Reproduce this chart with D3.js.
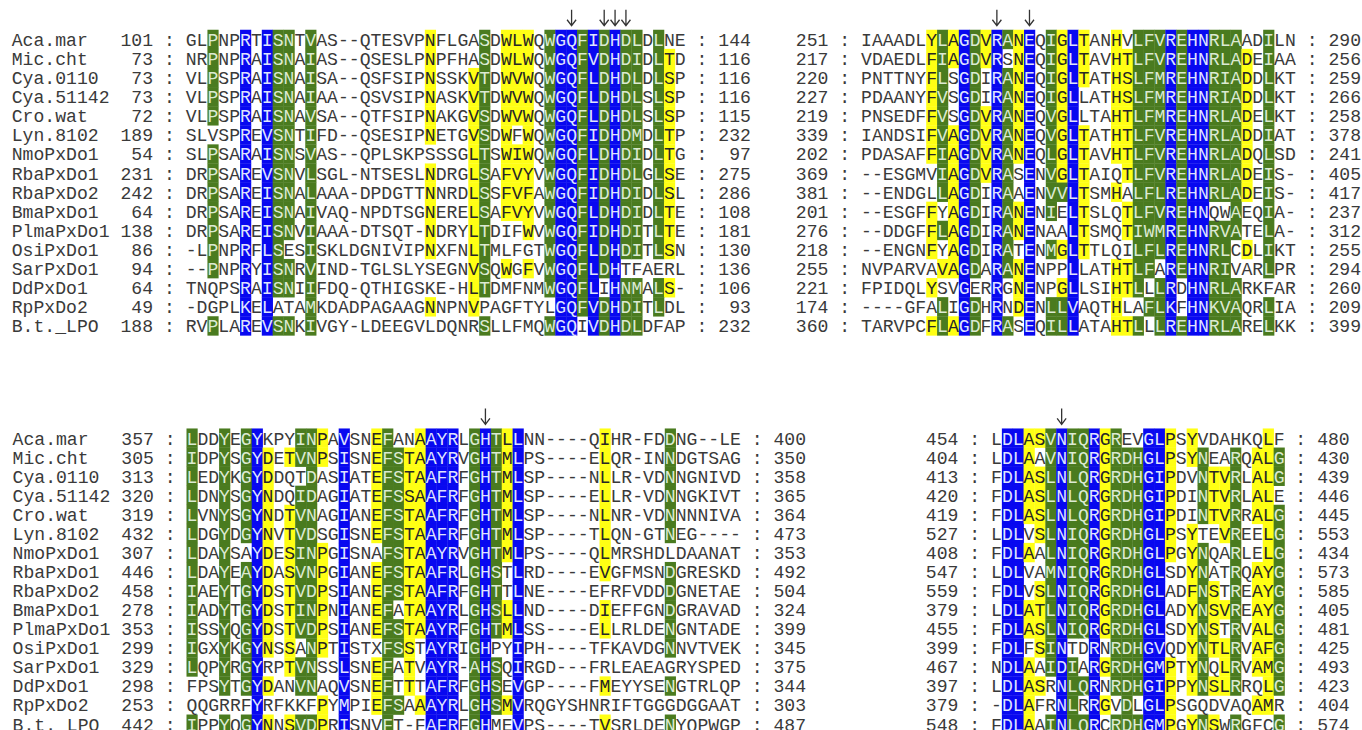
<!DOCTYPE html>
<meta charset="utf-8" />
<script src="https://d3js.org/d3.v7.min.js"></script>
<style>
  body { margin: 0; background: #fff; }
  svg text { font-family: "Liberation Mono", "DejaVu Sans Mono", monospace; font-size: 18.1px; }
</style>
<body>
  <div id="my_dataviz"></div>
</body>
<script>
  // sequence names (same order in every block)
  var names = ["Aca.mar", "Mic.cht", "Cya.0110", "Cya.51142", "Cro.wat", "Lyn.8102", "NmoPxDo1", "RbaPxDo1",
    "RbaPxDo2", "BmaPxDo1", "PlmaPxDo1", "OsiPxDo1", "SarPxDo1", "DdPxDo1", "RpPxDo2", "B.t._LPO"];

  // ---- block 1 (top left)
  var tlStart = [101, 73, 73, 73, 72, 189, 54, 231, 242, 64, 138, 86, 94, 64, 49, 188];
  var tlEnd = [144, 116, 116, 116, 115, 232, 97, 275, 286, 108, 181, 130, 136, 106, 93, 232];
  var tlSeq = [
    "GLPNPRTISNTVAS--QTESVPNFLGASDWLWQWGQFIDHDLDLNE",
    "NRPNPRAISNAIAS--QSESLPNPFHASDWLWQWGQFVDHDIDLTD",
    "VLPSPRAISNAISA--QSFSIPNSSKVTDWVWQWGQFLDHDLDLSP",
    "VLPSPRAISNAIAA--QSVSIPNASKVTDWVWQWGQFLDHDLSLSP",
    "VLPSPRAISNAVSA--QTFSIPNAKGVSDWVWQWGQFLDHDLSLSP",
    "SLVSPREVSNTIFD--QSESIPNETGVSDWFWQWGQFIDHDMDLTP",
    "SLPSARAISNSVAS--QPLSKPSSSGLTSWIWQWGQFLDHDIDLTG",
    "DRPSAREVSNVLSGL-NTSESLNDRGLSAFVYVWGQFIDHDLGLSE",
    "DRPSAREISNALAAA-DPDGTTNNRDLSSFVFAWGQFIDHDIDLSL",
    "DRPSAREISNAIVAQ-NPDTSGNERELSAFVYVWGQFLDHDIDLTE",
    "DRPSAREISNVIAAA-DTSQT-NDRYLTDIFWVWGQFIDHDITLTE",
    "-LPNPRFLSESISKLDGNIVIPNXFNLTMLFGTWGQFLDHDITLSN",
    "--PNPRYISNRVIND-TGLSLYSEGNVSQWGFVWGQFLDHTFAERL",
    "TNQPSRAISNIIFDQ-QTHIGSKE-HLTDMFNMWGQFLIHNMALS-",
    "-DGPLKELATAMKDADPAGAAGNNPNVPAGFTYLGQFVDHDITLDL",
    "RVPLAREVSNKIVGY-LDEEGVLDQNRSLLFMQWGQIVDHDLDFAP"];
  // conservation class per residue: b = conserved, g = high, y = medium, . = none
  var tlShade = [
    "..g..b.bgg" + ".g........" + "..y....g.y" + "yy.gbbgbgb" + "gg.g..",
    "..g..b.bgg" + ".g........" + "..y....g.y" + "yy.gbbgbgb" + "gg.gy.",
    "..g..b.bgg" + ".g........" + "..y...yg.y" + "yy.gbbgbgb" + "gg.gy.",
    "..g..b.bgg" + ".g........" + "..y...yg.y" + "yy.gbbgbgb" + "gg.gy.",
    "..g..b.bgg" + ".g........" + "..y...yg.y" + "yy.gbbgbgb" + "gg.gy.",
    ".....b.bgg" + ".g........" + "..y...yg.y" + ".y.gbbgbgb" + "gg.gy.",
    "..g..b.bgg" + ".g........" + "......yg.y" + "yy.gbbgbgb" + "gg.gy.",
    "..g..b.bgg" + ".g........" + "..y...yg.y" + "yy.gbbgbgb" + "gg.gy.",
    "..g..b.bgg" + ".g........" + "..y...yg.y" + "yy.gbbgbgb" + "gg.gy.",
    "..g..b.bgg" + ".g........" + "..y...yg.y" + "yy.gbbgbgb" + "gg.gy.",
    "..g..b.bgg" + ".g........" + "..y...yg.." + ".y.gbbgbgb" + "gg.gy.",
    "..g..b.bg." + ".g........" + "..y...yg.." + "...gbbgbgb" + "gg.gy.",
    "..g..b.bgg" + ".g........" + "......yg.y" + ".y.gbbgbgb" + "......",
    ".....b.bgg" + ".g........" + "......yg.." + "...gbbgb.b" + "gg.gy.",
    ".....b.b.." + ".g........" + "..y...y..." + "....bbgbgb" + "gg.g..",
    "..g..b.bgg" + ".g........" + ".......g.." + "...gbb.bgb" + "gg...."];
  var tlArrows = [36, 39, 40, 41];

  // ---- block 2 (top right)
  var trStart = [251, 217, 220, 227, 219, 339, 202, 369, 381, 201, 276, 218, 255, 221, 174, 360];
  var trEnd = [290, 256, 259, 266, 258, 378, 241, 405, 417, 237, 312, 255, 294, 260, 209, 399];
  var trSeq = [
    "IAAADLYLAGDVRANEQIGLTANHVLFVREHNRLAADILN",
    "VDAEDLFIAGDVRSNEQIGLTAVHTLFVREHNRLADEIAA",
    "PNTTNYFLSGDIRANEQIGLTATHSLFMREHNRIADDLKT",
    "PDAANYFVSGDIRANEQIGLLATHSLFMREHNRIADDLKT",
    "PNSEDFFVSGDVRANEQVGLLTAHTLFMREHNRLADELKT",
    "IANDSIFVAGDVRANEQVGLTATHTLFVREHNRLADDIAT",
    "PDASAFFIAGDVRANEQLGLTAVHTLFVREHNRLADQLSD",
    "--ESGMVIAGDVRASENVGLTAIQTLFVREHNRLADEIS-",
    "--ENDGLLAGDIRAAENVVLTSMHALFLREHNRLADEIS-",
    "--ESGFFYAGDIRANENIELTSLQTLFVREHNQWAEQIA-",
    "--DDGFFLAGDIRANENAALTSMQTIWMREHNRVATELA-",
    "--ENGNFYAGDIRATENMGLTTLQILFLREHNRLCDLIKT",
    "NVPARVAVAGDARANENPPLLATHTLFAREHNRIVARLPR",
    "FPIDQLYSVGERRGNENPGLLSIHTLLLRDHNRLARKFAR",
    "----GFALIGDHRNDENLLVAQTHLAFLKFHNKVAQRLIA",
    "TARVPCFLAGDFRASEQILLATAHTLLLREHNRLARELKK"];
  var trShade = [
    "......ygyb" + "gybgyb.gyb" + "y..y.gggbg" + "bbggg..g..",
    "......ygyb" + "gyb.yb.gyb" + "y..yygggbg" + "bbgggy.g..",
    "......yg.b" + "g.bgyb.gyb" + "y..yygggbg" + "bbgggy.g..",
    "......yg.b" + "g.bgyb.gyb" + "...yygggbg" + "bbgggy.g..",
    "......yg.b" + "gybgyb.gyb" + "...yygggbg" + "bbgggy.g..",
    "......ygyb" + "gybgyb.gyb" + "y..yygggbg" + "bbgggy.g..",
    "......ygyb" + "gybgyb.gyb" + "y..yygggbg" + "bbgggy.g..",
    ".......gyb" + "gybg.b.gyb" + "y...ygggbg" + "bbgggy.g..",
    ".......gyb" + "g.bg.b.ggb" + "y..y.gggbg" + "bbgggy.g..",
    "......y.yb" + "g.bgyb.g.b" + "y...ygggbg" + "bb..g..g..",
    "......ygyb" + "g.bgyb...b" + "y...ygggbg" + "bbggg..g..",
    "......y.yb" + "g.bg.b.gyb" + "y....gggbg" + "bbgg.y.g..",
    ".......yyb" + "g.bgyb...b" + "...yygg.bg" + "bbgg...g..",
    "......y..b" + "..b.yb..yb" + "...yyg.gb." + "bbggg.....",
    ".......g.b" + "g.b.yb.ggb" + "...y..ggb." + "bbggg..g..",
    "......ygyb" + "g.bg.b.ggb" + "...yyg.gbg" + "bbggg..g.."];
  var trArrows = [13, 16];

  // ---- block 3 (bottom left)
  var blStart = [357, 305, 313, 320, 319, 432, 307, 446, 458, 278, 353, 299, 329, 298, 253, 442];
  var blEnd = [400, 350, 358, 365, 364, 473, 353, 492, 504, 324, 399, 345, 375, 344, 303, 487];
  var blSeq = [
    "LDDYEGYKPYINPAVSNEFANAAYRLGHTLLNN----QIHR-FDDNG--LE",
    "IDPYSGYDETVNPSISNEFSTAAYRVGHTMLPS----ELQR-INNDGTSAG",
    "LEDYKGYDDQTDASIATEFSTAAFRFGHTMLSP----NLLR-VDNNGNIVD",
    "LDNYSGYNDQIDAGIATEFSSAAFRFGHTMLSP----ELLR-VDNNGKIVT",
    "LVNYSGYNDTVNAGIANEFSTAAFRFGHTMLSP----NLNR-VDNNNNIVA",
    "LDGYDGYNVTVDSGISNEFSTAAFRFGHTMLSP----TLQN-GTNEG----",
    "LDAYSAYDESINPGISNAFSTAAYRVGHTMLPS----QLMRSHDLDAANAT",
    "LDAYEAYDASVNPGIANEFSTAAFRLGHSTLRD----EVGFMSNDGRESKD",
    "IAEYTGYDSTVDPSIANEFSTAAFRFGHTTLNE----EFRFVDDDGNETAE",
    "IADYTGYDSTINPNIANEFATAAYRLGHSLLND----DIEFFGNDGRAVAD",
    "ISSYQGYDSTVDPSIANEFSTAAYRFGHTMLSS----ELLRLDENGNTADE",
    "IGXYKGYNSSANPTISTXFSSTAYRIGHPYIPH----TFKAVDGNNVTVEK",
    "LQPYRGYRPTVNSSLSNEFATVAYR-AHSQIRGD---FRLEAEAGRYSPED",
    "FPSYTGYDANVNAQVSNEFTTTAFRFGHSEVGP----FMEYYSENGTRLQP",
    "QQGRRFYRFKKFPYMPIEFSAAAYRLGHSMVRQGYSHNRIFTGGGDGGAAT",
    "IPPYQGYNNSVDPRISNVFT-FAFRFGHMEVPS----TVSRLDENYQPWGP"];
  var blShade = [
    "g..g.gb..." + "ggy.b..yg." + ".ybbb.gbgy" + "b.......y." + "....g....." + ".",
    "g..g.gby.y" + "ggy.b..ygg" + "yybbb.gbgy" + "b.......y." + "....g....." + ".",
    "g..g.gby.." + ".g..b..ygg" + "yybbb.gbgy" + "b.......y." + "....g....." + ".",
    "g..g.gby.." + "gg..b..ygg" + "yybbb.gbgy" + "b.......y." + "....g....." + ".",
    "g..g.gby.y" + "gg..b..ygg" + "yybbb.gbgy" + "b.......y." + "....g....." + ".",
    "g..g.gby.y" + "gg..b..ygg" + "yybbb.gbgy" + "b.......y." + "....g....." + ".",
    "g..g..by.y" + "ggy.b...gg" + "yybbb.gbgy" + "b.......y." + ".........." + ".",
    "g..g.gby.y" + "ggy.b..ygg" + "yybbb.gbg." + "b.......y." + "....g....." + ".",
    "g..g.gby.y" + "ggy.b..ygg" + "yybbb.gbg." + "b........." + "....g....." + ".",
    "g..g.gby.y" + "ggy.b..yg." + "yybbb.gbgy" + "b.......y." + "....g....." + ".",
    "g..g.gby.y" + "ggy.b..ygg" + "yybbb.gbgy" + "b.......y." + "....g....." + ".",
    "g..g.gby.y" + ".gy.b...gg" + "y.bbb.gb.." + "b........." + "....g....." + ".",
    "g..g.gb..y" + "gg..b..yg." + "y.bbb.gbg." + "b........." + ".........." + ".",
    "...g.gby.." + "gg..b..yg." + "y.bbb.gbg." + "b.......y." + "....g....." + ".",
    "......b..." + "..y.b..ygg" + ".ybbb.gbgy" + "b........." + ".........." + ".",
    "g..g.gby.y" + "ggy.b...g." + "..bbb.gb.." + "b.......y." + "....g....." + "."];
  var blArrows = [28];

  // ---- block 4 (bottom right)
  var brStart = [454, 404, 413, 420, 419, 527, 408, 547, 559, 379, 455, 399, 467, 397, 379, 548];
  var brEnd = [480, 430, 439, 446, 445, 553, 434, 573, 585, 405, 481, 425, 493, 423, 404, 574];
  var brSeq = [
    "LDLASVNIQRGREVGLPSYVDAHKQLF",
    "LDLAAVNIQRGRDHGLPSYNEARQALG",
    "FDLASLNLQRGRDHGIPDVNTVRLALG",
    "FDLASLNLQRGRDHGIPDINTVRLALE",
    "FDLASLNLQRGRDHGIPDINTVRRALG",
    "LDLVSLNIQRGRDHGLPSYTEVREELG",
    "FDLAALNIQRGRDHGLPGYNQARLELG",
    "LDLVAMNIQRGRDHGLSDYNATRQAYG",
    "FDLVSLNIQRGRDHGLADFNSTREAYG",
    "LDLATLNIQRGRDHGLADYNSVREAYG",
    "FDLASLNIQRGRDHGLSDYNSTRVALG",
    "FDLFSINTDRNRDHGVQDYNTLRVAFG",
    "NDLAAIDIARGRDHGMPTYNQLRVAMG",
    "LDLASRNLQRNRDHGIPPYNSLRRQLG",
    "-DLAFRNLRRGVDLGLPSGQDVAQAMR",
    "FDLAAINLQRCRDHGMPGYNSWRGFCG"];
  var brShade = [
    ".bbyygbggb" + "yg..bby.y." + ".....y.",
    ".bby.gbggb" + "ygggbby.yg" + "..g.yyg",
    ".bbyygbggb" + "ygggbby..g" + "yyg.yyg",
    ".bbyygbggb" + "ygggbby..g" + "yyg.yy.",
    ".bbyygbggb" + "ygggbby..g" + "yyg.yyg",
    ".bb.ygbggb" + "ygggbby.y." + ".yg..yg",
    ".bby.gbggb" + "ygggbby.yg" + "..g..yg",
    ".bb..gbggb" + "ygggbb..yg" + "..g.yyg",
    ".bb.ygbggb" + "ygggbb..yg" + "y.g.yyg",
    ".bbyygbggb" + "ygggbb..yg" + "yyg.yyg",
    ".bbyygbggb" + "ygggbb..yg" + "y.g.yyg",
    ".bb.ygb..b" + ".gggbb..yg" + "yyg.yyg",
    ".bby.gbg.b" + "ygggbby.yg" + ".yg.yyg",
    ".bbyy.bggb" + ".gggbby.yg" + "yyg..yg",
    ".bby..bg.b" + "y.g.bby..." + "....yy.",
    ".bby.gbggb" + ".gggbby.yg" + "y.g...g"];
  var brArrows = [7];

  var W = 1362, H = 730, cw = 10.87;
  var fillOf = { g: "#4a7b1f", b: "#0808f0", y: "#ffff14" };
  var inkOf = { g: "#dcead2", b: "#dfe2ff", y: "#262626", ".": "#3a3a3a" };

  var svg = d3.select("#my_dataviz").append("svg")
    .attr("width", W).attr("height", H)
    .style("display", "block").style("background", "#fff");

  function drawBlock(cfg) {
    var n = cfg.seq[0].length;
    var x = d3.scaleBand().domain(d3.range(n)).range([cfg.x0, cfg.x0 + n * cw]);
    var y = d3.scaleBand().domain(d3.range(names.length))
      .range([cfg.mid - cfg.rh / 2, cfg.mid - cfg.rh / 2 + names.length * cfg.rh]);
    var g = svg.append("g");

    var cells = [];
    cfg.seq.forEach(function (s, r) {
      for (var c = 0; c < n; c++) {
        cells.push({ r: r, c: c, aa: s[c], sh: cfg.shade[r][c] || "." });
      }
    });

    // shaded cells
    g.selectAll("rect")
      .data(cells.filter(function (d) { return d.sh !== "."; }))
      .enter().append("rect")
      .attr("x", function (d) { return x(d.c); })
      .attr("y", function (d) { return y(d.r); })
      .attr("width", x.bandwidth() + 0.3)
      .attr("height", y.bandwidth() + 0.3)
      .attr("fill", function (d) { return fillOf[d.sh]; });

    // residues
    g.selectAll("text.aa").data(cells).enter().append("text")
      .attr("class", "aa")
      .attr("x", function (d) { return x(d.c) + x.bandwidth() / 2; })
      .attr("y", function (d) { return y(d.r) + y.bandwidth() / 2; })
      .attr("dy", "0.36em")
      .attr("text-anchor", "middle")
      .attr("fill", function (d) { return inkOf[d.sh]; })
      .text(function (d) { return d.aa; });

    var rowY = function (d, i) { return y(i) + y.bandwidth() / 2; };

    if (cfg.withNames) {
      g.selectAll("text.nm").data(names).enter().append("text")
        .attr("x", cfg.x0 - 16 * cw).attr("y", rowY).attr("dy", "0.36em")
        .attr("fill", "#3a3a3a").text(function (d) { return d; });
    }
    // start numbers and colons
    g.selectAll("text.st").data(cfg.start).enter().append("text")
      .attr("x", cfg.x0 - 3 * cw).attr("y", rowY).attr("dy", "0.36em")
      .attr("text-anchor", "end").attr("fill", "#3a3a3a").text(function (d) { return d; });
    g.selectAll("text.c1").data(cfg.start).enter().append("text")
      .attr("x", cfg.x0 - 1.5 * cw).attr("y", rowY).attr("dy", "0.36em")
      .attr("text-anchor", "middle").attr("fill", "#3a3a3a").text(":");
    // end colons and numbers
    g.selectAll("text.c2").data(cfg.end).enter().append("text")
      .attr("x", cfg.x0 + (n + 1.5) * cw).attr("y", rowY).attr("dy", "0.36em")
      .attr("text-anchor", "middle").attr("fill", "#3a3a3a").text(":");
    g.selectAll("text.en").data(cfg.end).enter().append("text")
      .attr("x", cfg.x0 + (n + 6) * cw).attr("y", rowY).attr("dy", "0.36em")
      .attr("text-anchor", "end").attr("fill", "#3a3a3a").text(function (d) { return d; });

    // arrows over the marked columns
    var top = y(0) - cfg.arrowGap;
    g.selectAll("path.arrow").data(cfg.arrows).enter().append("path")
      .attr("d", function (col) {
        var cx = x(col - 1) + x.bandwidth() / 2;
        return "M" + cx + "," + (top - 16) + "V" + top +
          "M" + (cx - 4.5) + "," + (top - 6) + "L" + cx + "," + top + "L" + (cx + 4.5) + "," + (top - 6);
      })
      .attr("fill", "none").attr("stroke", "#333").attr("stroke-width", 1.3);
  }

  drawBlock({ seq: tlSeq, shade: tlShade, start: tlStart, end: tlEnd, arrows: tlArrows,
    x0: 185.7, mid: 39.3, rh: 19.1, withNames: true, arrowGap: 4 });
  drawBlock({ seq: trSeq, shade: trShade, start: trStart, end: trEnd, arrows: trArrows,
    x0: 861, mid: 39.3, rh: 19.1, withNames: false, arrowGap: 4 });
  drawBlock({ seq: blSeq, shade: blShade, start: blStart, end: blEnd, arrows: blArrows,
    x0: 186.5, mid: 438, rh: 19.07, withNames: true, arrowGap: 4 });
  drawBlock({ seq: brSeq, shade: brShade, start: brStart, end: brEnd, arrows: brArrows,
    x0: 991, mid: 438, rh: 19.07, withNames: false, arrowGap: 4 });
</script>
